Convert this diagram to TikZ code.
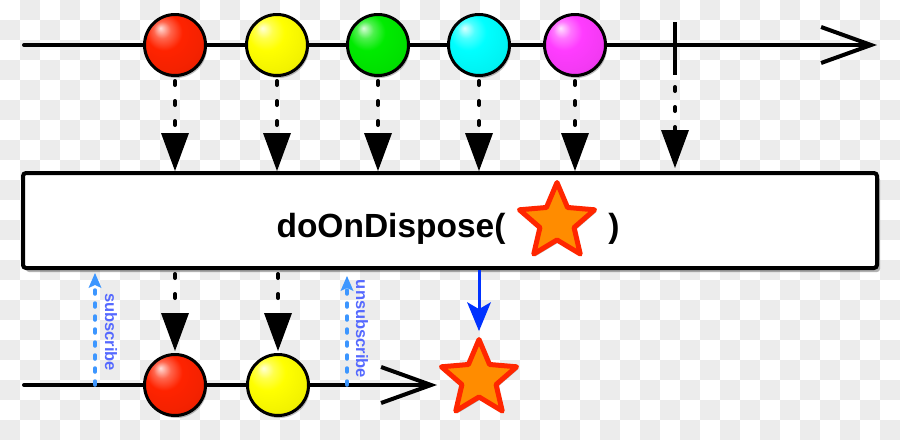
\documentclass[tikz,border=0pt]{standalone}
\usepackage{fontspec}
\setmainfont{Liberation Sans}
\usetikzlibrary{arrows.meta,shapes.geometric,shadows}
\definecolor{mred}{RGB}{255,35,0}
\definecolor{myellow}{RGB}{255,255,0}
\definecolor{mgreen}{RGB}{0,235,0}
\definecolor{mcyan}{RGB}{0,255,255}
\definecolor{mmagenta}{RGB}{255,60,255}
\definecolor{starfill}{RGB}{255,140,0}
\definecolor{staredge}{RGB}{255,38,0}
\definecolor{subblue}{RGB}{60,150,255}
\definecolor{sublabel}{RGB}{85,105,255}
\definecolor{dblue}{RGB}{0,50,255}
\definecolor{bgsq}{RGB}{236,236,236}
\makeatletter
\pgfdeclareradialshading[tikz@ball]{glossball}{\pgfpoint{-12bp}{14bp}}{%
  color(0bp)=(tikz@ball!15!white);
  color(7bp)=(tikz@ball!70!white);
  color(15bp)=(tikz@ball);
  color(30bp)=(tikz@ball!95!black);
  color(45bp)=(tikz@ball!78!black);
  color(60bp)=(tikz@ball!60!black)}
\makeatother
\begin{document}
\begin{tikzpicture}[x=1pt,y=-1pt,
  shad/.style={drop shadow={shadow xshift=1.5pt,shadow yshift=-2.5pt,opacity=0.25,fill=black}},
  ball/.style={circle,draw=black,line width=3pt,minimum size=61pt,inner sep=0pt,
    ball color=#1,shading=glossball,shad},
  timeline/.style={line width=4pt,line cap=round,-{Straight Barb[length=50pt,width=36pt]}},
  dotarrow/.style={line width=4pt,line cap=round,dash pattern=on 4pt off 16pt,
    -{Triangle[length=38pt,width=28pt,line width=0pt]}},
  subarrow/.style={line width=3.5pt,subblue,line cap=round,dash pattern=on 4pt off 9pt,
    -{Stealth[length=15pt,width=13pt,inset=3pt,line width=0pt]}},
  sublbl/.style={text=sublabel,font=\fontsize{16.5}{20}\selectfont\bfseries,inner sep=0pt,rotate=-90},
  starnode/.style={star,star points=5,star point ratio=2.2,draw=staredge,fill=starfill,
    line width=5pt,line join=round,minimum size=79pt,inner sep=0pt,shad},
  opbox/.style={draw=black,fill=white,line width=4pt,rounded corners=3pt,
    minimum width=854pt,minimum height=95pt,inner sep=0pt,
    drop shadow={shadow xshift=3pt,shadow yshift=-4pt,opacity=0.3,fill=black}},
  title/.style={font=\fontsize{33.5}{40}\selectfont\bfseries,anchor=base,inner sep=0pt}
]
\useasboundingbox (0,0) rectangle (900,440);
% background checkerboard
\fill[white] (0,0) rectangle (900,440);
\foreach \i in {0,...,44}{\foreach \j in {0,...,21}{
  \pgfmathtruncatemacro\p{mod(\i+\j,2)}
  \ifnum\p=1 \fill[bgsq] (\i*20,\j*20) rectangle +(20,20);\fi}}

% top timeline
\coordinate (ts) at (24,45);
\coordinate (te) at (877,45);
\draw[timeline] (ts) -- (te);
\node[ball=mred] (t1) at (175,45) {};
\node[ball=myellow] (t2) at (277,45) {};
\node[ball=mgreen] (t3) at (378,45) {};
\node[ball=mcyan] (t4) at (479,45) {};
\node[ball=mmagenta] (t5) at (575,45) {};
\coordinate (tka) at (675,22);
\coordinate (tkb) at (675,75);
\draw[line width=4pt] (tka) -- (tkb);

% operator box
\node[opbox] (box) at (450,220.5) {};
\node[title] (txt) at (391,237) {doOnDispose(};
\node[title] (cp) at (614,237) {)};
\node[starnode] (bstar) at (557,222) {};

% dotted arrows top -> box
\foreach \n in {t1,t2,t3,t4,t5}{
  \draw[dotarrow,shorten <=4pt] (\n.south) -- (\n.south |- box.north);}
\draw[dotarrow,shorten <=12pt,shorten >=3pt] (tkb) -- (tkb |- box.north);

% bottom timeline
\coordinate (bs) at (24,385);
\coordinate (be) at (437,385);
\draw[timeline] (bs) -- (be);
\node[ball=mred] (b1) at (175,385) {};
\node[ball=myellow] (b2) at (278,385) {};
\draw[dotarrow,shorten <=4pt,shorten >=2pt] (box.south -| b1) -- (b1.north);
\draw[dotarrow,shorten <=4pt,shorten >=2pt] (box.south -| b2) -- (b2.north);

% subscribe / unsubscribe
\coordinate (s0) at (95,385);
\coordinate (u0) at (347,385);
\draw[subarrow,shorten >=3pt] (s0) -- (s0 |- box.south);
\draw[subarrow,shorten >=6pt] (u0) -- (u0 |- box.south);
\node[sublbl] (sl) at (111,332) {subscribe};
\node[sublbl] (ul) at (362,329) {unsubscribe};

% result star
\node[starnode] (rstar) at (479,379) {};
\draw[line width=3pt,dblue,-{Stealth[length=29pt,width=24pt,inset=7pt,line width=0pt]},shorten >=2pt]
  (box.south -| rstar) -- (rstar.north);
\end{tikzpicture}
\end{document}
